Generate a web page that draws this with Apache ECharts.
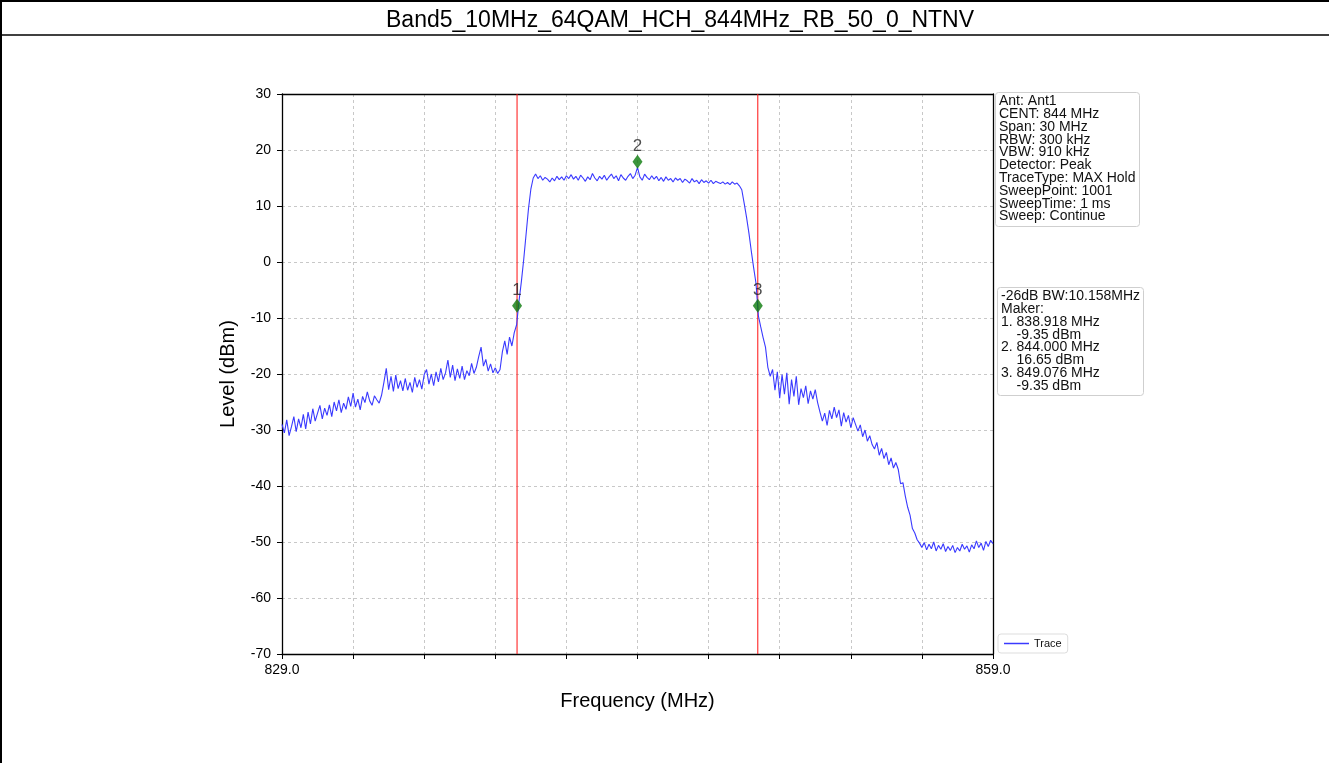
<!DOCTYPE html>
<html>
<head>
<meta charset="utf-8">
<script src="https://cdn.jsdelivr.net/npm/echarts@6/dist/echarts.min.js"></script>
<style>
	html, body { margin: 0; padding: 0; background: #fff; }
	#chart { width: 1329px; height: 763px; }
</style>
</head>
<body>
<div id="chart"></div>
<script>
const chartTitle = 'Band5_10MHz_64QAM_HCH_844MHz_RB_50_0_NTNV';

// sweep: start 829 MHz, 0.1 MHz per point
const startFreq = 829.0;
const stepFreq = 0.1;
const traceLevel = [
	-29.0, -30.5, -28.2, -31.0, -29.4, -27.6, -30.3, -28.0, -29.6, -27.2,
	-29.8, -26.8, -28.9, -26.2, -28.4, -27.0, -25.6, -28.0, -26.1, -27.4,
	-25.5, -27.6, -25.0, -26.6, -24.6, -26.9, -25.2, -26.3, -24.1, -25.8,
	-23.4, -25.9, -24.5, -26.4, -24.0, -25.1, -23.2, -24.8, -25.6, -23.9,
	-24.6, -25.2, -23.8, -21.5, -19.0, -22.8, -20.4, -23.1, -20.2, -22.6,
	-21.2, -23.0, -20.8, -22.9, -21.5, -23.3, -20.6, -22.4, -21.0, -22.7,
	-20.1, -19.2, -21.8, -20.0, -22.1, -19.6, -21.4, -19.0, -21.0, -19.8,
	-17.5, -20.6, -18.4, -21.2, -19.1, -20.8, -18.6, -21.0, -19.4, -20.3,
	-18.1, -19.9, -18.8, -16.9, -15.2, -18.6, -17.4, -19.5, -18.2, -19.8,
	-18.9, -19.9, -19.2, -16.0, -14.1, -16.5, -13.4, -15.0, -12.6, -11.2,
	-7.0, -3.5, 0.5, 5.0, 9.5, 13.0, 15.0, 15.7, 14.9, 15.4,
	14.6, 15.1, 14.8, 14.3, 15.0, 14.5, 15.3, 14.7, 15.2, 14.6,
	15.4, 14.9, 15.6, 14.8, 15.3, 14.6, 15.5, 15.0, 14.4, 15.2,
	14.7, 15.8, 15.0, 14.5, 15.3, 14.8, 15.5, 14.6, 15.2, 15.7,
	14.9, 15.4, 14.5, 15.6, 15.0, 14.6, 15.3, 15.8, 14.9, 15.5,
	16.9, 15.2, 14.6, 15.7, 15.1, 14.7, 15.4, 14.8, 15.3, 14.5,
	15.1, 14.4, 15.2, 14.6, 14.9, 14.3, 15.0, 14.6, 14.9, 14.2,
	14.8, 14.5, 14.1, 14.9, 14.3, 14.6, 14.0, 14.7, 14.2, 14.5,
	14.1, 14.6, 14.0, 14.4, 14.2, 14.0, 14.3, 13.9, 14.2, 13.8,
	14.3, 13.9, 14.1, 13.6, 12.9, 10.5, 8.0, 5.2, 2.0, -1.0,
	-3.8, -9.6, -11.6, -13.5, -15.2, -18.8, -20.4, -19.2, -22.9, -19.6,
	-24.3, -20.1, -23.6, -19.8, -25.4, -21.0, -24.0, -20.4, -25.5, -22.6,
	-24.2, -22.1, -25.3, -23.0, -24.5, -22.8, -25.1, -26.8, -28.4, -27.0,
	-29.2, -26.5, -28.0, -25.9, -27.8, -26.4, -29.3, -26.9, -28.6, -27.4,
	-29.6, -27.8, -29.0, -30.2, -29.1, -31.2, -30.0, -32.0, -31.0, -32.6,
	-33.4, -32.2, -34.5, -33.3, -35.1, -34.0, -36.2, -35.0, -36.8, -35.8,
	-37.0, -39.6, -39.4, -41.8, -43.8, -45.2, -47.6, -48.4, -49.6, -50.2,
	-51.0, -50.1, -51.4, -50.4, -51.2, -50.0, -51.6, -50.6, -51.3, -50.3,
	-51.7, -50.8, -51.5, -50.6, -51.9, -51.0, -51.6, -50.4, -51.3, -50.7,
	-51.8, -50.5, -51.2, -49.8, -51.0, -50.2, -51.5, -49.9, -50.8, -49.7,
	-50.3
];

const markerFreq = [838.918, 844.000, 849.076];
const markerLevel = [-7.8, 17.9, -7.8];   // where the diamonds sit
const markerName = ['1', '2', '3'];
const bwLines = [838.918, 849.076];

const infoLines = [
	'Ant: Ant1',
	'CENT: 844 MHz',
	'Span: 30 MHz',
	'RBW: 300 kHz',
	'VBW: 910 kHz',
	'Detector: Peak',
	'TraceType: MAX Hold',
	'SweepPoint: 1001',
	'SweepTime: 1 ms',
	'Sweep: Continue'
];
const makerLines = [
	'-26dB BW:10.158MHz',
	'Maker:',
	'1. 838.918 MHz',
	'    -9.35 dBm',
	'2. 844.000 MHz',
	'    16.65 dBm',
	'3. 849.076 MHz',
	'    -9.35 dBm'
];

const xMin = 829, xMax = 859, xStep = 3;
const yMin = -70, yMax = 30, yStep = 10;

function drawChart() {
	let chart = echarts.init(document.getElementById('chart'), null, { renderer: 'canvas' });
	let font = "'Liberation Sans', Arial, sans-serif";

	let traceData = [];
	for (let i = 0; i < traceLevel.length; i++) {
		traceData.push([+(startFreq + i * stepFreq).toFixed(3), traceLevel[i]]);
	}
	let markerData = [];
	for (let i = 0; i < markerFreq.length; i++) {
		markerData.push({ value: [markerFreq[i], markerLevel[i]], name: markerName[i] });
	}

	let boxStyle = {
		backgroundColor: '#fff',
		borderColor: '#cfcfcf',
		borderWidth: 1,
		borderRadius: 3,
		padding: [2, 4, 3, 4],
		textStyle: { fontFamily: font, fontSize: 14, fontWeight: 'normal', color: '#111', lineHeight: 12.8 }
	};

	let gridLine = { show: true, lineStyle: { color: '#c8c8c8', type: [3, 3], width: 1 } };
	let spine = { show: true, onZero: false, lineStyle: { color: '#000', width: 1.3 } };

	let series = [
		{
			name: 'Trace',
			type: 'line',
			data: traceData,
			showSymbol: false,
			symbol: 'none',
			lineStyle: { color: '#3a3aff', width: 1.1 },
			itemStyle: { color: '#3a3aff' },
			z: 4
		}
	];
	// -26 dB bandwidth edges
	for (let i = 0; i < bwLines.length; i++) {
		series.push({
			name: 'bw' + i,
			type: 'line',
			data: [[bwLines[i], yMin], [bwLines[i], yMax]],
			symbol: 'none',
			silent: true,
			lineStyle: { color: '#ff1010', width: 1 },
			z: 3
		});
	}
	series.push({
		name: 'Marker',
		type: 'scatter',
		data: markerData,
		symbol: 'diamond',
		symbolSize: [10, 14],
		itemStyle: { color: '#0b7a0b' },
		z: 5,
		label: {
			show: true,
			position: 'top',
			distance: 0,
			formatter: '{b}',
			fontFamily: font,
			fontSize: 17,
			color: '#222'
		}
	});

	let option = {
		backgroundColor: '#fff',
		animation: false,
		title: [
			{
				text: chartTitle,
				left: 381,
				top: 4,
				textStyle: { fontFamily: font, fontSize: 23, fontWeight: 'normal', color: '#000' }
			},
			Object.assign({ text: infoLines.join('\n'), left: 995, top: 93 }, boxStyle),
			Object.assign({ text: makerLines.join('\n'), left: 997, top: 288 }, boxStyle)
		],
		legend: {
			data: ['Trace'],
			left: 998,
			top: 634,
			icon: 'rect',
			itemWidth: 25,
			itemHeight: 1.5,
			itemGap: 6,
			padding: [4, 6, 4, 6],
			borderColor: '#dddddd',
			borderWidth: 1,
			borderRadius: 3,
			backgroundColor: '#fff',
			textStyle: { fontFamily: font, fontSize: 11, color: '#111' }
		},
		grid: {
			left: 282,
			right: 336,
			top: 94,
			bottom: 109,
			containLabel: false,
			outerBoundsMode: 'none'
		},
		xAxis: [
			{
				type: 'value',
				min: xMin,
				max: xMax,
				interval: xStep,
				name: 'Frequency (MHz)',
				nameLocation: 'middle',
				nameGap: 37,
				nameTextStyle: { fontFamily: font, fontSize: 20, color: '#000' },
				axisLine: spine,
				axisTick: { show: true, length: 5, lineStyle: { color: '#000' } },
				axisLabel: {
					fontFamily: font,
					fontSize: 14,
					color: '#000',
					margin: 9,
					showMinLabel: true,
					showMaxLabel: true,
					formatter: function (v) {
						return (v === xMin || v === xMax) ? v.toFixed(1) : '';
					}
				},
				splitLine: gridLine
			},
			{
				type: 'value',
				position: 'top',
				min: xMin,
				max: xMax,
				interval: xStep,
				axisLine: spine,
				axisTick: { show: false },
				axisLabel: { show: false },
				splitLine: { show: false }
			}
		],
		yAxis: [
			{
				type: 'value',
				min: yMin,
				max: yMax,
				interval: yStep,
				name: 'Level (dBm)',
				nameLocation: 'middle',
				nameGap: 44,
				nameRotate: 90,
				nameTextStyle: { fontFamily: font, fontSize: 20, color: '#000' },
				axisLine: spine,
				axisTick: { show: true, length: 5, lineStyle: { color: '#000' } },
				axisLabel: { fontFamily: font, fontSize: 14, color: '#000', margin: 11 },
				splitLine: gridLine
			},
			{
				type: 'value',
				position: 'right',
				min: yMin,
				max: yMax,
				interval: yStep,
				axisLine: spine,
				axisTick: { show: false },
				axisLabel: { show: false },
				splitLine: { show: false }
			}
		],
		series: series,
		graphic: [
			{ type: 'line', shape: { x1: 1, y1: 0, x2: 1, y2: 763 }, style: { stroke: '#000', lineWidth: 2 } },
			{ type: 'line', shape: { x1: 0, y1: 1, x2: 1329, y2: 1 }, style: { stroke: '#000', lineWidth: 2 } },
			{ type: 'line', shape: { x1: 0, y1: 35, x2: 1329, y2: 35 }, style: { stroke: '#000', lineWidth: 1.5 } }
		]
	};
	chart.setOption(option);
}

drawChart();
</script>
</body>
</html>
